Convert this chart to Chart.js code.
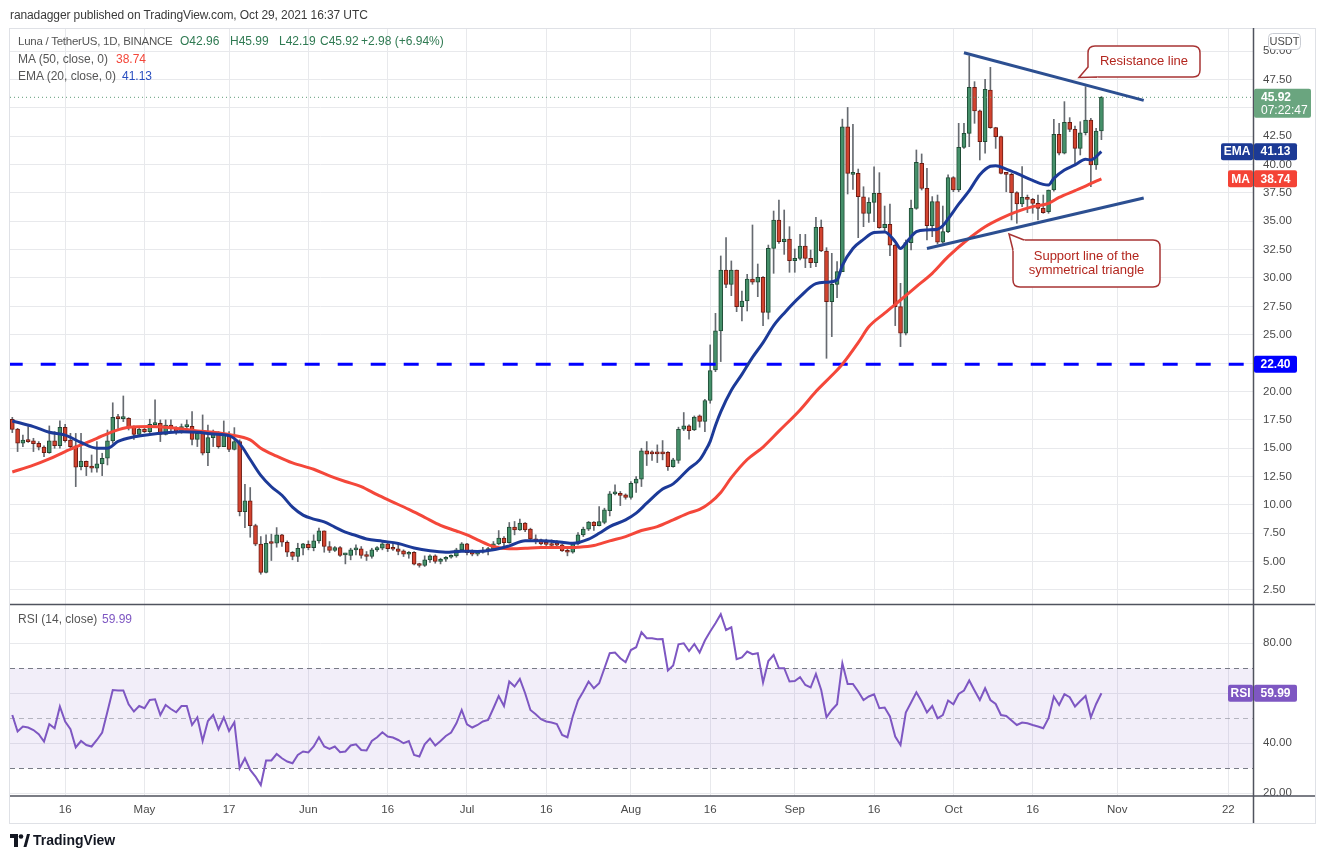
<!DOCTYPE html>
<html>
<head>
<meta charset="utf-8">
<script src="https://cdn.jsdelivr.net/npm/chart.js@4.4.0/dist/chart.umd.min.js"></script>
<style>
  body { margin: 0; background: #fff; }
  #wrap { position: relative; width: 1325px; height: 859px; }
  .t { position: absolute; white-space: nowrap; font-family: 'Liberation Sans', Arial, sans-serif; line-height: 15px; }
</style>
</head>
<body>
<div id="wrap">
  <canvas id="luna" width="1325" height="859"></canvas>
  <div class="t" style="left:10px;top:8px;font-size:12px;letter-spacing:-0.1px;color:#3a3a3a">ranadagger published on TradingView.com, Oct 29, 2021 16:37 UTC</div>
  <div class="t" style="left:18px;top:34px;font-size:11.5px;letter-spacing:-0.25px;color:#555">Luna / TetherUS, 1D, BINANCE</div>
  <div class="t" id="lgO" style="left:180px;top:34px;font-size:12px;color:#2f7a52"></div>
  <div class="t" id="lgH" style="left:230px;top:34px;font-size:12px;color:#2f7a52"></div>
  <div class="t" id="lgL" style="left:279px;top:34px;font-size:12px;color:#2f7a52"></div>
  <div class="t" id="lgC" style="left:320px;top:34px;font-size:12px;color:#2f7a52"></div>
  <div class="t" id="lgChg" style="left:361px;top:34px;font-size:12px;color:#2f7a52"></div>
  <div class="t" style="left:18px;top:52px;font-size:12px;color:#555">MA (50, close, 0)</div>
  <div class="t" id="lgMA" style="left:116px;top:52px;font-size:12px;color:#f4473a"></div>
  <div class="t" style="left:18px;top:69px;font-size:12px;color:#555">EMA (20, close, 0)</div>
  <div class="t" id="lgEMA" style="left:122px;top:69px;font-size:12px;color:#2a4fc0"></div>
  <div class="t" style="left:18px;top:612px;font-size:12px;color:#555">RSI (14, close)</div>
  <div class="t" id="lgRSI" style="left:102px;top:612px;font-size:12px;color:#7e57c2"></div>
  <svg style="position:absolute;left:10px;top:834px" width="20" height="13" viewBox="0 0 20 13">
    <path d="M0 0H8V13H4V4H0Z" fill="#131722"/>
    <circle cx="11" cy="2.5" r="2.3" fill="#131722"/>
    <path d="M13.5 13L17 0H20L16.5 13Z" fill="#131722"/>
  </svg>
  <div class="t" style="left:33px;top:833px;font-size:14px;font-weight:bold;color:#131722">TradingView</div>
</div>
<script>
// Luna / TetherUS daily candles, day 0 = 2021-04-06, last = 2021-10-29
const opens = [17.55,16.69,15.43,15.72,15.64,15.43,15.10,14.60,15.64,15.22,
  16.84,15.72,15.20,13.37,13.84,13.43,13.23,13.61,14.11,15.64,
  17.75,17.60,17.63,16.84,16.22,16.66,16.46,17.07,17.19,16.22,
  17.04,16.78,16.46,16.90,16.93,15.78,16.31,14.60,15.93,16.37,
  15.14,16.16,14.90,15.58,9.41,10.35,8.18,6.54,4.04,6.62,
  6.62,7.36,6.71,5.83,5.45,6.18,6.53,6.24,6.83,7.71,
  6.33,5.98,6.24,5.60,5.54,6.04,6.12,5.60,5.45,6.04,
  6.18,6.56,6.24,6.12,5.95,5.65,5.83,4.80,4.66,5.16,
  5.51,5.01,5.21,5.39,5.51,6.04,6.56,5.86,5.66,5.83,
  5.98,6.09,6.57,7.07,6.68,8.04,7.80,8.39,7.86,7.01,
  6.92,6.71,6.57,6.51,6.48,5.98,5.83,6.57,7.36,7.86,
  8.48,8.18,8.45,9.50,10.97,11.03,10.88,10.65,11.91,12.27,
  14.76,14.55,14.55,14.55,14.64,13.38,13.91,16.67,16.96,16.61,
  17.84,17.35,19.20,21.90,25.33,30.70,29.44,30.70,27.47,27.97,
  29.91,29.62,30.06,26.97,32.61,35.11,33.20,33.43,31.52,31.73,
  32.82,31.73,31.35,34.46,32.38,27.91,29.44,30.56,43.33,39.13,
  39.22,37.16,35.69,36.66,37.46,34.43,34.72,32.90,27.47,25.13,
  33.12,36.14,40.10,37.90,34.61,36.73,33.15,34.08,38.84,37.75,
  41.51,42.74,46.80,44.72,42.01,46.56,43.25,42.45,39.22,39.13,
  37.52,36.52,37.11,36.93,36.58,36.14,35.85,37.75,42.66,40.99,
  43.72,43.10,41.42,42.80,43.92,39.96,42.96];
const highs = [17.72,16.75,16.16,16.90,15.87,15.58,15.20,16.96,16.46,17.40,
  17.10,16.31,16.30,16.30,13.87,14.40,15.58,14.55,16.60,19.00,
  17.98,19.60,17.69,16.96,16.81,16.81,17.55,19.25,17.49,17.49,
  17.49,16.90,17.13,17.49,18.22,16.46,17.93,17.04,16.60,16.46,
  17.40,16.46,16.81,15.73,11.82,11.53,8.30,7.21,7.36,7.42,
  8.00,7.40,6.83,5.89,6.62,6.62,6.83,7.36,7.95,7.71,
  6.77,6.33,6.33,5.74,6.18,6.48,6.33,5.89,6.18,6.33,
  6.68,6.68,6.62,6.56,6.04,5.89,5.89,4.86,5.51,5.60,
  5.60,5.30,5.45,5.60,6.18,6.68,6.62,6.04,5.89,6.27,
  6.27,6.77,7.74,7.21,8.45,8.54,8.74,8.45,7.95,7.36,
  6.98,6.98,6.92,6.86,6.57,6.09,6.68,7.56,8.04,8.54,
  8.54,9.86,9.71,11.18,11.76,11.18,10.97,12.06,12.50,14.99,
  15.58,14.76,15.29,15.67,14.70,14.11,16.85,18.14,17.05,17.84,
  17.93,19.31,24.10,26.88,31.94,33.55,31.50,30.70,28.85,30.32,
  34.67,31.23,30.12,32.90,35.90,36.87,35.99,34.52,32.55,33.84,
  33.84,32.46,35.34,35.11,32.67,32.17,31.44,44.00,45.03,43.54,
  39.60,38.04,37.07,39.80,39.28,36.34,36.52,32.96,29.53,33.35,
  36.87,41.28,40.93,39.66,37.17,37.31,36.34,39.08,38.93,43.63,
  43.63,49.56,47.30,44.80,47.50,48.56,43.28,42.51,39.28,39.22,
  37.60,39.81,37.31,37.02,37.31,37.31,37.75,43.98,43.63,45.54,
  44.13,43.39,43.77,46.86,44.07,43.19,45.99];
const lows = [16.37,14.70,15.14,15.50,14.70,14.84,14.26,14.55,14.99,14.99,
  15.52,14.99,11.61,13.08,12.58,12.88,12.88,12.58,13.52,15.43,
  16.75,17.34,16.60,15.78,16.16,16.37,16.37,17.05,15.58,16.16,
  16.37,16.22,16.31,16.66,15.28,15.14,14.40,13.46,15.14,14.99,
  15.14,14.70,14.84,9.03,8.00,7.15,6.40,3.89,4.00,5.10,
  6.27,6.33,5.45,5.16,5.00,5.60,6.04,5.95,6.62,5.83,
  5.80,5.89,5.45,4.80,5.16,5.60,5.30,5.10,5.30,5.89,
  6.04,5.89,5.98,5.60,5.45,5.30,4.71,4.51,4.57,4.92,
  4.86,4.80,5.01,5.30,5.39,5.89,5.60,5.51,5.51,5.74,
  5.60,6.04,6.48,6.39,6.62,7.36,7.74,7.65,6.92,6.57,
  6.48,6.18,6.18,6.39,5.89,5.51,5.74,6.48,7.21,7.74,
  7.74,8.15,8.33,9.03,10.88,9.94,10.50,10.50,11.09,11.62,
  13.47,13.91,13.73,13.97,13.03,13.32,13.67,16.55,15.79,16.55,
  16.85,16.46,18.96,21.74,22.63,29.15,28.44,27.03,26.21,27.09,
  29.44,28.35,25.80,26.38,30.41,33.05,32.08,30.50,30.50,31.58,
  30.91,30.91,31.00,32.32,22.92,24.83,28.26,30.56,37.40,37.81,
  33.55,34.52,34.90,34.96,34.37,34.08,31.96,25.80,23.95,24.98,
  32.47,36.05,37.75,33.35,33.64,33.00,33.06,33.99,37.60,37.60,
  41.42,41.57,43.63,40.40,40.99,43.19,41.42,39.16,37.60,35.11,
  34.82,36.29,35.76,35.70,35.11,35.70,35.70,37.66,40.84,40.93,
  42.89,39.96,40.84,42.60,38.05,39.57,42.19];
const closes = [16.66,15.43,15.72,15.58,15.40,15.08,14.60,15.64,15.22,16.84,
  15.67,15.14,13.32,13.87,13.37,13.23,13.61,14.11,15.64,17.72,
  17.60,17.66,16.81,16.22,16.66,16.46,17.10,17.22,16.22,17.04,
  16.75,16.46,16.90,16.93,15.78,16.31,14.55,15.93,16.37,15.14,
  16.16,14.90,15.58,9.41,10.35,8.18,6.54,4.04,6.62,6.60,
  7.36,6.71,5.83,5.45,6.18,6.56,6.24,6.83,7.71,6.33,
  5.98,6.24,5.54,5.60,6.04,6.12,5.54,5.45,6.04,6.24,
  6.56,6.15,6.09,5.89,5.65,5.83,4.77,4.66,5.16,5.51,
  5.01,5.21,5.39,5.51,6.04,6.56,5.80,5.66,5.83,5.98,
  6.09,6.57,7.07,6.68,8.04,7.80,8.39,7.80,7.01,6.77,
  6.57,6.51,6.42,6.45,5.95,5.83,6.57,7.36,7.86,8.48,
  8.18,8.54,9.56,10.97,11.09,10.83,10.65,11.91,12.27,14.76,
  14.47,14.50,14.50,14.50,13.38,13.97,16.67,16.96,16.55,17.73,
  17.35,19.20,21.84,25.33,30.70,29.44,30.70,27.47,27.97,29.91,
  29.62,30.06,26.97,32.61,35.11,33.20,33.43,31.52,31.73,32.82,
  31.73,31.35,34.46,32.38,27.91,29.44,30.56,43.33,39.22,39.22,
  37.16,35.69,36.66,37.46,34.43,34.72,32.88,27.47,25.13,33.12,
  36.14,40.19,37.90,34.61,36.73,33.15,34.08,38.84,37.75,41.51,
  42.74,46.80,44.72,42.01,46.62,43.25,42.45,39.22,39.13,37.52,
  36.52,37.11,36.93,36.58,36.14,35.76,37.75,42.66,40.99,43.72,
  43.10,41.42,42.80,43.92,39.96,42.94,45.92];

// indicator lines (day index, value)
const emaDays = [0,4,7,10,13,16,18,20,23,26,29,32,35,38,41,43,45,47,49,51,
  53,55,57,59,61,63,65,67,70,73,76,79,82,85,88,91,94,97,100,104,
  106,109,111,113,116,118,120,123,125,128,130,131,132,133,134,136,138,140,142,144,
  146,149,152,154,156,157,159,161,163,165,167,168,169,170,171,173,175,176,177,179,
  181,183,185,186,188,190,193,195,196,197,199,201,203,204,206];
const emaValues = [17.4,16.9,16.4,16.15,15.5,15.0,15.0,15.6,16.0,16.2,16.35,16.45,16.4,16.25,16.1,15.4,14.0,12.6,11.6,10.85,
  9.8,9.1,8.75,8.5,8.05,7.6,7.3,7.0,6.8,6.6,6.2,5.95,5.83,5.92,5.9,6.04,6.39,6.83,6.83,6.7,
  6.62,6.98,7.5,8.09,8.68,9.27,10.15,11.4,11.85,13.2,13.97,14.7,15.6,17.0,18.2,20.1,21.5,23.0,24.3,25.8,
  26.9,28.35,29.5,29.62,29.82,31.1,32.6,33.4,34.0,34.05,33.2,32.6,33.06,33.64,34.08,34.23,34.29,34.6,35.2,36.5,
  37.7,39.1,39.85,39.9,39.6,39.22,38.6,38.25,38.19,38.78,39.52,39.96,40.46,40.4,41.13];
const maDays = [0,4,7,10,13,16,19,22,26,29,32,35,38,41,45,47,50,53,57,60,
  63,66,69,72,75,78,81,84,86,88,91,94,97,100,104,107,110,113,116,119,
  122,125,128,130,132,134,136,139,142,145,149,152,155,157,160,162,165,168,171,174,
  177,181,184,187,190,193,196,198,201,203,206];
const maValues = [12.9,13.5,14.05,14.7,15.28,15.87,16.46,16.84,16.9,16.84,16.69,16.52,16.4,16.2,15.73,15.0,14.3,13.7,13.14,12.56,
  12.06,11.62,10.9,10.25,9.6,8.9,8.2,7.7,7.35,6.92,6.33,6.13,6.18,6.24,6.24,6.27,6.42,6.83,7.21,7.74,
  8.09,8.68,9.3,9.6,10.2,11.1,12.4,14.0,15.1,16.5,18.37,19.99,21.4,22.4,24.3,25.7,26.9,28.06,29.24,30.41,
  31.88,33.5,34.52,35.26,35.85,36.29,36.58,37.1,37.7,38.1,38.74];

const rsiValues = [51.3,44.7,46.7,46.3,45.3,43.6,40.7,47.6,46.0,54.7,
  48.7,45.6,38.3,40.9,39.3,38.7,41.3,44.3,52.7,61.3,
  61.1,61.1,55.6,52.7,54.9,54.0,57.3,57.6,51.3,55.3,
  53.7,52.4,54.9,54.9,47.3,50.3,40.9,48.9,51.3,45.6,
  50.4,44.9,48.4,30.0,34.0,29.3,26.7,23.3,33.1,33.1,
  35.7,34.0,32.7,32.0,35.3,36.7,36.3,38.7,42.4,38.7,
  37.7,38.7,36.4,36.7,39.1,39.6,37.3,37.1,40.9,42.4,
  44.4,42.7,42.3,41.3,40.0,40.9,35.3,34.7,39.6,41.9,
  39.1,40.9,42.9,44.3,48.0,53.3,47.6,46.3,47.3,48.7,
  49.3,54.0,58.9,54.9,64.7,62.7,65.7,60.0,53.3,51.6,
  49.6,48.7,48.3,47.7,43.3,42.4,50.7,57.1,60.7,64.7,
  62.0,64.0,70.0,76.0,76.3,74.0,72.4,77.3,78.4,84.4,
  82.0,82.0,81.6,81.7,69.1,71.1,79.6,80.0,76.9,79.7,
  76.3,81.1,84.7,88.0,91.6,85.3,86.4,73.6,74.3,76.7,
  75.6,76.0,64.3,72.9,75.3,70.0,70.0,64.7,64.9,66.4,
  63.3,62.3,67.7,61.3,50.4,53.3,55.6,72.0,63.7,63.7,
  60.7,57.3,58.7,59.6,54.0,54.3,50.7,42.7,39.3,52.3,
  56.3,60.4,56.7,52.3,54.9,50.0,51.3,57.1,55.6,59.7,
  61.1,65.1,61.1,57.3,62.0,57.3,55.7,51.3,50.9,49.1,
  47.3,48.3,48.0,47.3,46.7,46.0,50.0,58.7,55.3,59.6,
  58.4,54.7,56.9,58.9,50.4,55.7,59.99];

// drawn trend lines (day index, price) and the key level
const resistanceLine = [[180, 49.85], [214, 45.65]];
const supportLine = [[173, 32.6], [214, 37.05]];
const keyLevels = [22.40];

// axes
const xTickDays = [10,25,41,56,71,86,101,117,132,148,163,178,193,209,230];
const xTickLabels = ['16','May','17','Jun','16','Jul','16','Aug','16','Sep','16','Oct','16','Nov','22'];
const priceTicks = [2.5,5,7.5,10,12.5,15,17.5,20,22.5,25,27.5,30,32.5,35,37.5,40,42.5,45,47.5,50];
const rsiTicks = [20,40,60,80];
const rsiLevels = [70,50,30];

const FONT = "'Liberation Sans', Arial, sans-serif";
const last = closes.length - 1;
const UP_FILL = '#45906a', UP_EDGE = '#1f4d36', DN_FILL = '#d2432f', DN_EDGE = '#6e1b12';

// legend texts
document.getElementById('lgO').textContent = 'O' + opens[last].toFixed(2);
document.getElementById('lgH').textContent = 'H' + highs[last].toFixed(2);
document.getElementById('lgL').textContent = 'L' + lows[last].toFixed(2);
document.getElementById('lgC').textContent = 'C' + closes[last].toFixed(2);
const chg = closes[last] - closes[last - 1];
document.getElementById('lgChg').textContent = '+' + chg.toFixed(2) + ' (+' + (chg / closes[last - 1] * 100).toFixed(2) + '%)';
document.getElementById('lgMA').textContent = maValues[maValues.length - 1].toFixed(2);
document.getElementById('lgEMA').textContent = emaValues[emaValues.length - 1].toFixed(2);
document.getElementById('lgRSI').textContent = rsiValues[last].toFixed(2);

const idx = closes.map((c, i) => i);
const isUp = i => closes[i] >= opens[i];

function pts(xs, ys) { return xs.map((x, k) => ({x: x, y: ys[k]})); }

function roundRect(ctx, x, y, w, h, r) {
  ctx.beginPath();
  ctx.moveTo(x + r, y);
  ctx.lineTo(x + w - r, y); ctx.quadraticCurveTo(x + w, y, x + w, y + r);
  ctx.lineTo(x + w, y + h - r); ctx.quadraticCurveTo(x + w, y + h, x + w - r, y + h);
  ctx.lineTo(x + r, y + h); ctx.quadraticCurveTo(x, y + h, x, y + h - r);
  ctx.lineTo(x, y + r); ctx.quadraticCurveTo(x, y, x + r, y);
  ctx.closePath();
}

function axisBox(ctx, x, yc, w, text, bg) {
  ctx.fillStyle = bg;
  roundRect(ctx, x, yc - 8.5, w, 17, 2);
  ctx.fill();
  ctx.fillStyle = '#fff';
  ctx.font = 'bold 12px ' + FONT;
  ctx.textAlign = 'center';
  ctx.textBaseline = 'middle';
  ctx.fillText(text, x + w / 2, yc + 0.5);
}

function callout(ctx, box, tip, b1, b2, lines) {
  ctx.save();
  ctx.lineWidth = 1.5;
  ctx.strokeStyle = '#a83434';
  ctx.fillStyle = '#fff';
  roundRect(ctx, box[0], box[1], box[2], box[3], 7);
  ctx.fill(); ctx.stroke();
  ctx.beginPath();
  ctx.moveTo(tip[0], tip[1]); ctx.lineTo(b1[0], b1[1]); ctx.lineTo(b1[0] + 4, b1[1] + 4);
  ctx.lineTo(b2[0] + 4, b2[1] + 4); ctx.lineTo(b2[0], b2[1]); ctx.closePath();
  ctx.fill();
  ctx.beginPath();
  ctx.moveTo(b1[0], b1[1]); ctx.lineTo(tip[0], tip[1]); ctx.lineTo(b2[0], b2[1]);
  ctx.stroke();
  ctx.fillStyle = '#b3261e';
  ctx.font = '13px ' + FONT;
  ctx.textAlign = 'center';
  ctx.textBaseline = 'middle';
  const cx = box[0] + box[2] / 2;
  const top = box[1] + box[3] / 2 - (lines.length - 1) * 7;
  lines.forEach((s, k) => ctx.fillText(s, cx, top + k * 14));
  ctx.restore();
}

const panes = {
  id: 'panes',
  beforeDatasetsDraw(chart) {
    const {ctx, chartArea: a, scales: {y2}} = chart;
    const top = y2.getPixelForValue(rsiLevels[0]);
    const bot = y2.getPixelForValue(rsiLevels[2]);
    ctx.save();
    ctx.fillStyle = 'rgba(126,87,194,0.1)';
    ctx.fillRect(a.left, top, a.right - a.left, bot - top);
    rsiLevels.forEach((lv, k) => {
      const py = Math.round(y2.getPixelForValue(lv)) + 0.5;
      ctx.beginPath();
      ctx.setLineDash([5, 4]);
      ctx.lineWidth = 1;
      ctx.strokeStyle = k === 1 ? 'rgba(120,123,134,0.5)' : '#787b86';
      ctx.moveTo(a.left, py); ctx.lineTo(a.right, py);
      ctx.stroke();
    });
    ctx.restore();
  },
  afterDraw(chart) {
    const {ctx, chartArea: a, scales: {y, y2}} = chart;
    const R = 1315;
    ctx.save();
    // outer frame
    ctx.strokeStyle = '#dfe1e6';
    ctx.lineWidth = 1;
    ctx.strokeRect(9.5, 28.5, R - 9, 795);
    // pane separators and axis lines
    ctx.strokeStyle = '#50535e';
    ctx.lineWidth = 1.5;
    ctx.beginPath();
    ctx.moveTo(a.left, Math.round(y.bottom) + 0.5); ctx.lineTo(R, Math.round(y.bottom) + 0.5);
    ctx.moveTo(a.left, Math.round(a.bottom)); ctx.lineTo(R, Math.round(a.bottom));
    ctx.moveTo(Math.round(a.right) + 0.5, 28); ctx.lineTo(Math.round(a.right) + 0.5, 823);
    ctx.stroke();

    const ax = a.right + 1;
    // key level box
    axisBox(ctx, ax, y.getPixelForValue(keyLevels[0]), 43, keyLevels[0].toFixed(2), '#0000ff');
    // MA / EMA boxes
    const ma = maValues[maValues.length - 1], ema = emaValues[emaValues.length - 1];
    axisBox(ctx, ax, y.getPixelForValue(ema), 43, ema.toFixed(2), '#1c3a95');
    axisBox(ctx, ax - 33, y.getPixelForValue(ema), 32, 'EMA', '#1c3a95');
    axisBox(ctx, ax, y.getPixelForValue(ma), 43, ma.toFixed(2), '#f44336');
    axisBox(ctx, ax - 26, y.getPixelForValue(ma), 25, 'MA', '#f44336');
    // RSI box
    const ry = y2.getPixelForValue(rsiValues[last]);
    axisBox(ctx, ax, ry, 43, rsiValues[last].toFixed(2), '#7e57c2');
    axisBox(ctx, ax - 26, ry, 25, 'RSI', '#7e57c2');
    // last price box
    const py = y.getPixelForValue(closes[last]);
    ctx.fillStyle = '#6aa57f';
    roundRect(ctx, ax, py - 8.5, 57, 29, 2);
    ctx.fill();
    ctx.fillStyle = '#fff';
    ctx.textAlign = 'left';
    ctx.textBaseline = 'middle';
    ctx.font = 'bold 12px ' + FONT;
    ctx.fillText(closes[last].toFixed(2), ax + 7, py + 0.5);
    ctx.font = '12px ' + FONT;
    ctx.fillText('07:22:47', ax + 7, py + 13.5);
    // currency tag
    ctx.fillStyle = '#fff';
    ctx.strokeStyle = '#c9ccd3';
    ctx.lineWidth = 1;
    roundRect(ctx, 1268.5, 33.5, 32, 16, 4);
    ctx.fill(); ctx.stroke();
    ctx.fillStyle = '#4a4a4a';
    ctx.font = '11px ' + FONT;
    ctx.textAlign = 'center';
    ctx.fillText('USDT', 1284.5, 42);
    ctx.restore();

    // author annotations
    callout(ctx, [1088, 46, 112, 31], [1079, 77.5], [1088, 67], [1097, 77], ['Resistance line']);
    callout(ctx, [1013, 240, 147, 47], [1009, 234], [1013, 250], [1024, 240], ['Support line of the', 'symmetrical triangle']);
  }
};

const xMin = -0.435, xMax = 234.67;
const gridColor = '#e8e9ec';
const tickFont = {family: FONT, size: 11.5};

new Chart(document.getElementById('luna'), {
  type: 'bar',
  data: {
    datasets: [
      { type: 'line', label: 'Resistance line', data: resistanceLine.map(p => ({x: p[0], y: p[1]})),
        borderColor: '#2c4f91', borderWidth: 3, pointRadius: 0, yAxisID: 'y', order: 0 },
      { type: 'line', label: 'Support line', data: supportLine.map(p => ({x: p[0], y: p[1]})),
        borderColor: '#2c4f91', borderWidth: 3, pointRadius: 0, yAxisID: 'y', order: 0 },
      { type: 'line', label: 'EMA 20', data: pts(emaDays, emaValues),
        borderColor: '#1c3a98', borderWidth: 3, pointRadius: 0, cubicInterpolationMode: 'monotone', yAxisID: 'y', order: 1 },
      { type: 'line', label: 'MA 50', data: pts(maDays, maValues),
        borderColor: '#f4473a', borderWidth: 3, pointRadius: 0, cubicInterpolationMode: 'monotone', yAxisID: 'y', order: 1 },
      { type: 'line', label: 'Level', data: [{x: xMin, y: keyLevels[0]}, {x: xMax, y: keyLevels[0]}],
        borderColor: '#0000ff', borderWidth: 3, borderDash: [15, 18], borderDashOffset: 2.3, pointRadius: 0, yAxisID: 'y', order: 1 },
      { type: 'line', label: 'Last', data: [{x: xMin, y: closes[last]}, {x: xMax, y: closes[last]}],
        borderColor: '#5f9b78', borderWidth: 1, borderDash: [1, 3], pointRadius: 0, yAxisID: 'y', order: 1 },
      { label: 'Bodies', data: idx.map(i => ({x: i, y: [opens[i], closes[i]]})),
        backgroundColor: idx.map(i => isUp(i) ? UP_FILL : DN_FILL),
        borderColor: idx.map(i => isUp(i) ? UP_EDGE : DN_EDGE),
        borderWidth: 1, borderSkipped: false, barThickness: 4, minBarLength: 2, grouped: false, yAxisID: 'y', order: 2 },
      { label: 'Wicks', data: idx.map(i => ({x: i, y: [lows[i], highs[i]]})),
        backgroundColor: '#666a70', barThickness: 1, grouped: false, yAxisID: 'y', order: 3 },
      { type: 'line', label: 'RSI', data: rsiValues.map((v, i) => ({x: i, y: v})),
        borderColor: '#7e57c2', borderWidth: 2, pointRadius: 0, yAxisID: 'y2', order: 0 }
    ]
  },
  options: {
    responsive: false,
    animation: false,
    devicePixelRatio: 1,
    layout: { padding: { left: 10, right: 10, top: 28, bottom: 36 } },
    plugins: { legend: { display: false }, tooltip: { enabled: false } },
    scales: {
      x: {
        type: 'linear', min: xMin, max: xMax, offset: false,
        afterBuildTicks: s => { s.ticks = xTickDays.map(v => ({value: v})); },
        afterFit: s => { s.height = 27; },
        ticks: { autoSkip: false, maxRotation: 0, padding: 7, color: '#4a4a4a', font: tickFont,
          callback: (v, i) => xTickLabels[i] },
        grid: { color: gridColor, drawTicks: false, offset: false },
        border: { display: false }
      },
      y: {
        type: 'linear', position: 'right', stack: 'panes', stackWeight: 3,
        min: 1.266, max: 52.03,
        afterBuildTicks: s => { s.ticks = priceTicks.map(v => ({value: v})); },
        afterFit: s => { s.width = 62; },
        ticks: { autoSkip: false, padding: 10, color: '#4a4a4a', font: tickFont, callback: v => v.toFixed(2) },
        grid: { color: gridColor, drawTicks: false },
        border: { display: false }
      },
      y2: {
        type: 'linear', position: 'right', stack: 'panes', stackWeight: 1,
        min: 18.9, max: 95.7,
        afterBuildTicks: s => { s.ticks = rsiTicks.map(v => ({value: v})); },
        afterFit: s => { s.width = 62; },
        ticks: { autoSkip: false, padding: 10, color: '#4a4a4a', font: tickFont, callback: v => v.toFixed(2) },
        grid: { color: gridColor, drawTicks: false },
        border: { display: false }
      }
    }
  },
  plugins: [panes]
});
</script>
</body>
</html>
